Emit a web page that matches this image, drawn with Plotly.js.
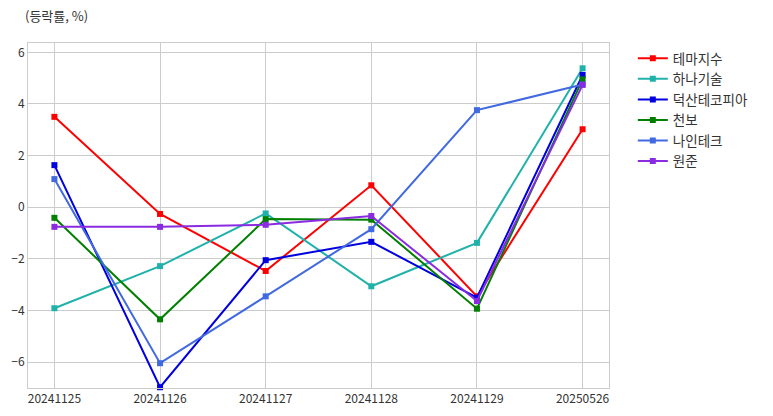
<!DOCTYPE html>
<html>
<head>
<meta charset="utf-8">
<script src="https://cdn.plot.ly/plotly-3.0.1.min.js"></script>
<style>html,body{margin:0;padding:0;background:#fff;}#chart{width:773px;height:416px;}</style>
</head>
<body>
<div id="chart"></div>
<script>
const dates = ["20241125", "20241126", "20241127", "20241128", "20241129", "20250526"];
const names = ["테마지수", "하나기술", "덕산테코피아", "천보", "나인테크", "원준"];
const colors = ["#ff0000", "#20b2aa", "#0000e0", "#008000", "#4169e1", "#8a2be2"];
const themeIdx = [3.50, -0.26, -2.47, 0.85, -3.45, 3.02];
const hana = [-3.91, -2.28, -0.24, -3.06, -1.38, 5.38];
const duksan = [1.63, -6.97, -2.05, -1.34, -3.50, 5.12];
const chunbo = [-0.41, -4.34, -0.46, -0.48, -3.93, 4.95];
const nine = [1.09, -6.04, -3.45, -0.85, 3.76, 4.75];
const wonjun = [-0.76, -0.76, -0.68, -0.34, -3.63, 4.74];
const series = [themeIdx, hana, duksan, chunbo, nine, wonjun];

const font = "'Noto Sans CJK KR', 'Noto Sans', sans-serif";
const traces = series.map((s, i) => ({
  x: dates, y: s, name: names[i], type: 'scatter', mode: 'lines+markers',
  line: {color: colors[i], width: 2},
  marker: {symbol: 'square', size: 6, color: colors[i]},
  cliponaxis: false
}));

const layout = {
  width: 773, height: 416,
  margin: {l: 28, r: 164, t: 43, b: 28},
  paper_bgcolor: '#fff', plot_bgcolor: '#fff',
  font: {family: font, size: 12, color: '#333'},
  showlegend: true,
  legend: {x: 1.041, y: 1.0, xanchor: 'left', yanchor: 'top',
    font: {family: font, size: 13.5, color: '#333'}, bgcolor: 'rgba(0,0,0,0)',
    itemwidth: 30, tracegroupgap: 0},
  xaxis: {type: 'category', range: [-0.25, 5.25], showgrid: true, gridcolor: '#cccccc', gridwidth: 1,
    showline: true, mirror: true, linecolor: '#cccccc', linewidth: 1, zeroline: false,
    ticks: '', tickfont: {family: font, size: 12, color: '#333'}},
  yaxis: {range: [-7.0, 6.36], tickvals: [-6, -4, -2, 0, 2, 4, 6], showgrid: true, gridcolor: '#cccccc', gridwidth: 1,
    showline: true, mirror: true, linecolor: '#cccccc', linewidth: 1, zeroline: false,
    ticks: '', tickfont: {family: font, size: 12, color: '#333'}},
  annotations: [{text: '(등락률, %)', xref: 'paper', yref: 'paper', x: -0.008, y: 1.0, yshift: 28,
    xanchor: 'left', yanchor: 'middle', showarrow: false, font: {family: font, size: 13, color: '#333'}}]
};
Plotly.newPlot('chart', traces, layout, {displayModeBar: false});
</script>
</body>
</html>
